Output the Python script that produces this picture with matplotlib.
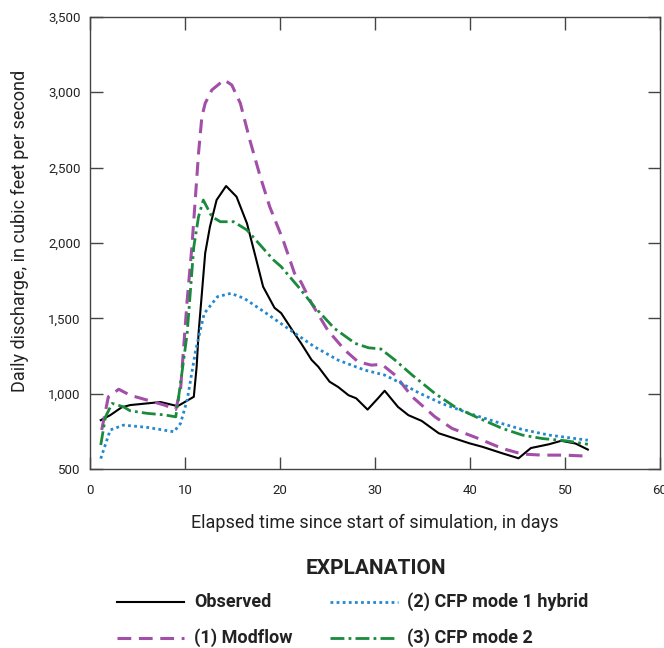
import numpy as np
import matplotlib
matplotlib.use('Agg')
import matplotlib.pyplot as plt
from matplotlib.lines import Line2D

plt.rcParams['font.family'] = ['Roboto', 'DejaVu Sans']

# values (days, cubic feet per second)
obs_day = [1.1, 2.1, 3.3, 4.2, 7.4, 9.2, 10.9, 11.2, 11.4, 12.1, 12.6, 13.3, 14.3, 15.4,
           16.5, 17.4, 18.2, 19.4, 20.1, 21.5, 22.2, 23.3, 24.0, 25.2, 26.1, 27.2, 28.0,
           29.2, 30.3, 31.0, 32.4, 33.5, 34.9, 36.7, 39.9, 41.3, 43.4, 45.1, 46.4, 48.3,
           49.6, 51.1, 52.4]
obs_q = [825, 858, 910, 925, 945, 918, 980, 1180, 1400, 1933, 2108, 2285, 2378, 2307,
         2130, 1909, 1710, 1570, 1535, 1400, 1335, 1225, 1180, 1080, 1045, 990, 970,
         895, 970, 1020, 913, 858, 820, 738, 672, 648, 605, 572, 640, 665,
         688, 670, 630]

mod_day = [1.2, 1.9, 3.0, 4.2, 6.0, 7.8, 9.0, 9.5, 10.2, 10.7, 11.05, 11.4, 11.75, 12.1,
           12.8, 14.1, 14.9, 15.8, 16.8, 17.9, 18.9, 20.3, 21.5, 22.2, 23.3, 25.0, 26.8,
           28.2, 29.6, 30.7, 32.1, 33.9, 36.3, 38.1, 40.6, 43.4, 45.5, 47.6, 50.0, 52.4]
mod_q = [760, 980, 1030, 990, 958, 925, 896, 1025, 1620, 1975, 2285, 2597, 2838, 2927,
         3015, 3082, 3048, 2927, 2683, 2440, 2240, 2020, 1800, 1740, 1600, 1422, 1290,
         1212, 1190, 1195, 1124, 980, 847, 770, 710, 637, 600, 593, 593, 586]

cfp1_day = [1.1, 2.1, 3.5, 6.0, 8.8, 9.5, 10.2, 11.1, 12.0, 13.4, 14.8, 16.2, 18.3, 20.8,
            23.6, 26.1, 28.9, 31.0, 32.8, 34.6, 37.0, 39.9, 42.7, 45.5, 48.3, 52.4]
cfp1_q = [570, 760, 792, 777, 748, 803, 958, 1290, 1533, 1644, 1666, 1633, 1544, 1434,
          1312, 1223, 1157, 1124, 1068, 1006, 936, 870, 814, 763, 726, 692]

cfp2_day = [1.1, 1.6, 2.3, 3.5, 4.2, 6.0, 7.8, 9.0, 9.5, 10.2, 10.9, 11.4, 11.9, 12.8,
            13.7, 15.1, 16.5, 17.9, 19.3, 20.1, 21.9, 23.6, 25.7, 27.9, 29.3, 30.6, 32.1,
            33.9, 36.3, 38.4, 40.6, 43.4, 45.5, 47.6, 50.1, 52.4]
cfp2_q = [660, 847, 936, 913, 887, 870, 860, 847, 1068, 1400, 1975, 2175, 2285, 2175,
          2141, 2141, 2086, 1986, 1887, 1843, 1710, 1577, 1434, 1334, 1305, 1297, 1223,
          1124, 1002, 913, 847, 770, 726, 703, 688, 665]

yticks = [500, 1000, 1500, 2000, 2500, 3000, 3500]
ylabels = ['500', '1,000', '1,500', '2,000', '2,500', '3,000', '3,500']
xticks = [0, 10, 20, 30, 40, 50, 60]

styles = {
    'Observed': dict(color='black', lw=1.5, ls='-'),
    '(1) Modflow': dict(color='#a24fa8', lw=2.2, ls=(0, (4.5, 2.5))),
    '(2) CFP mode 1 hybrid': dict(color='#2288d0', lw=2.0, ls=(0, (1, 1.2))),
    '(3) CFP mode 2': dict(color='#1a8a3c', lw=2.0, ls=(0, (5, 1.5, 1, 1.5))),
}

fig = plt.figure(figsize=(6.64, 6.48), dpi=100)
ax = fig.add_axes([0.136, 0.276, 0.858, 0.698])

ax.plot(obs_day, obs_q, **styles['Observed'])
ax.plot(mod_day, mod_q, **styles['(1) Modflow'])
ax.plot(cfp1_day, cfp1_q, **styles['(2) CFP mode 1 hybrid'])
ax.plot(cfp2_day, cfp2_q, **styles['(3) CFP mode 2'])

ax.set_xlim(0, 60)
ax.set_ylim(500, 3500)
ax.set_xticks(xticks)
ax.set_yticks(yticks)
ax.set_yticklabels(ylabels)
ax.tick_params(direction='in', length=9, width=1, color='#444444', top=True, right=True,
               labelsize=9.5, labelcolor='#222222')
ax.tick_params(axis='x', pad=11)
ax.tick_params(axis='y', pad=7)
for s in ax.spines.values():
    s.set_color('#444444')
    s.set_linewidth(1)

ax.set_xlabel('Elapsed time since start of simulation, in days', fontsize=13, color='#222222', labelpad=12)
ax.set_ylabel('Daily discharge, in cubic feet per second', fontsize=13, color='#222222')
ax.yaxis.set_label_coords(-0.108, 0.527)

# explanation block, placed in figure pixels like the reference
W, H = 664.0, 648.0
fig.text(376 / W, 1 - 568 / H, 'EXPLANATION', ha='center', va='center',
         fontsize=15, fontweight='bold', color='#222222')
entries = [
    (117, 184, 194, 602, 'Observed'),
    (117, 184, 194, 638, '(1) Modflow'),
    (330, 398, 407, 602, '(2) CFP mode 1 hybrid'),
    (330, 398, 407, 638, '(3) CFP mode 2'),
]
for x0, x1, xt, yy, lab in entries:
    fig.add_artist(Line2D([x0 / W, x1 / W], [1 - yy / H, 1 - yy / H],
                          transform=fig.transFigure, **styles[lab]))
    fig.text(xt / W, 1 - yy / H, lab, ha='left', va='center', fontsize=13,
             fontweight='bold', color='#222222')

fig.savefig('out.png', dpi=100)
